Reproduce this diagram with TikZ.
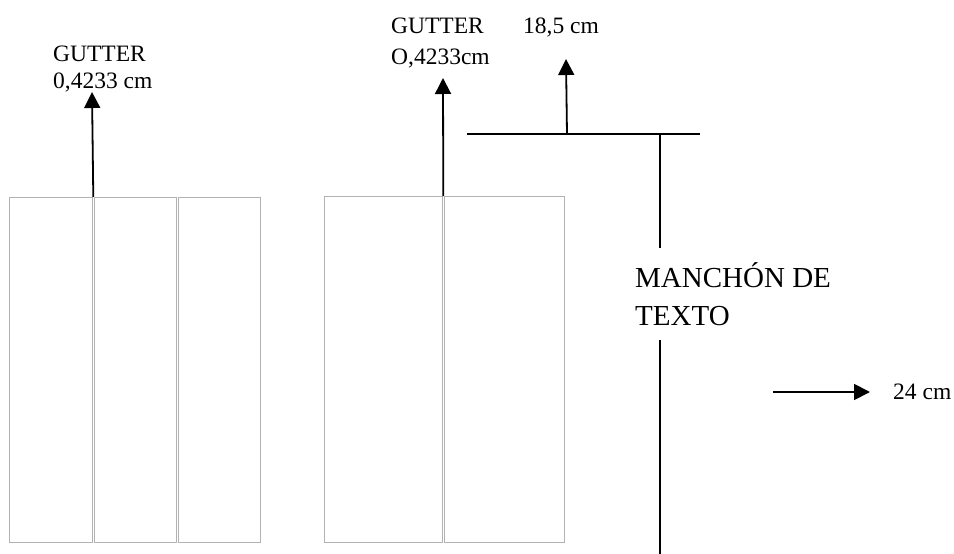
\documentclass[tikz,border=0pt]{standalone}
\usepackage{fontspec}
\setmainfont{Liberation Serif}
\usetikzlibrary{arrows.meta}
\begin{document}
\begin{tikzpicture}[x=1pt,y=-1pt,
  col/.style={draw=black!30,line width=1.3pt,inner sep=0pt,anchor=north west},
  lbl/.style={font=\fontsize{23.5}{28}\selectfont,inner sep=0pt,anchor=base west},
  big/.style={font=\fontsize{29}{35}\selectfont,inner sep=0pt,anchor=base west},
  ln/.style={draw=black,line width=1.8pt},
  arr/.style={ln,-{Triangle[length=16pt,width=16pt]}}]
\useasboundingbox (0,0) rectangle (954,554);
% left page: three columns
\node[col,minimum width=83pt,minimum height=345pt] (L1) at (9,197) {};
\node[col,minimum width=82pt,minimum height=345pt] (L2) at (94,197) {};
\node[col,minimum width=82pt,minimum height=345pt] (L3) at (178,197) {};
% right page: two columns
\node[col,minimum width=118pt,minimum height=346pt] (R1) at (324,196) {};
\node[col,minimum width=120pt,minimum height=346pt] (R2) at (444,196) {};
% labels
\node[lbl] (g1) at (53,61) {GUTTER};
\node[lbl] (g1v) at (53,88) {0,4233 cm};
\node[lbl] (g2) at (391,33) {GUTTER};
\node[lbl] (g2v) at (391,64) {O,4233cm};
\node[lbl] (w) at (523,34) {18,5 cm};
\node[big] (m1) at (635,287) {MANCHÓN DE};
\node[big] (m2) at (635,325) {TEXTO};
\node[lbl] (h) at (893,399) {24 cm};
% connectors
\coordinate (t1) at (92,92);
\draw[arr] (L1.north east) -- (t1);
\coordinate (t2) at (443,78);
\draw[arr] (R1.north east) -- (t2);
\coordinate (ha) at (467,134);
\coordinate (hb) at (700,134);
\draw[ln] (ha) -- (hb);
\coordinate (a3) at (567,134);
\coordinate (t3) at (566,59);
\draw[arr] (a3) -- (t3);
\coordinate (v1) at (660,134);
\coordinate (v2) at (660,248);
\coordinate (v3) at (660,340);
\coordinate (v4) at (660,554);
\draw[ln] (v1) -- (v2);
\draw[ln] (v3) -- (v4);
\coordinate (a4) at (773,392);
\coordinate (t4) at (870,392);
\draw[arr] (a4) -- (t4);
\end{tikzpicture}
\end{document}
